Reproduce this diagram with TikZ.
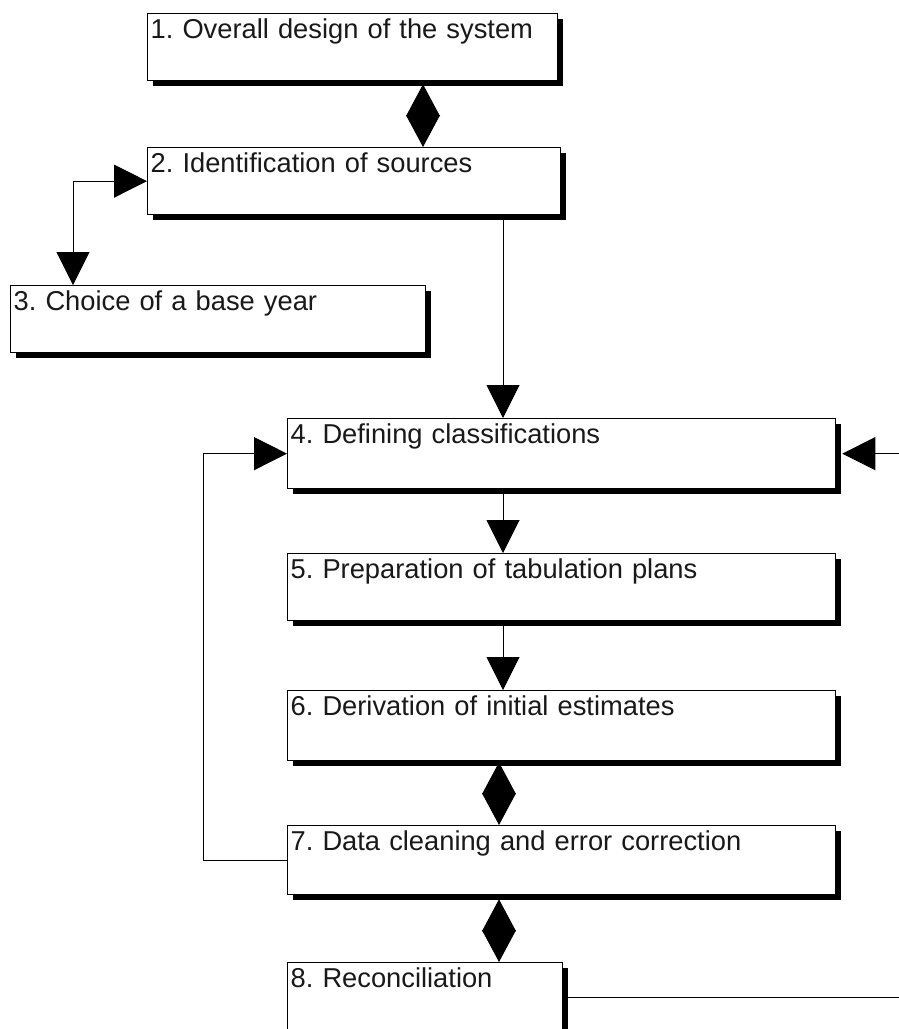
\documentclass[tikz,border=0pt]{standalone}
\usepackage{fontspec}
\setmainfont{Liberation Sans}
\usetikzlibrary{arrows.meta,shadows}
\frenchspacing
\begin{document}
\begin{tikzpicture}[x=1pt,y=-1pt,
  box/.style={draw=black, fill=white, line width=1.3pt, inner xsep=3pt, inner ysep=0pt,
    text height=25pt, align=left, anchor=north west,
    font=\fontsize{27.3}{30}\selectfont, text=black!90,
    drop shadow={shadow xshift=5pt, shadow yshift=-5pt, opacity=1, fill=black}},
  conn/.style={draw=black, line width=1pt},
  arr/.style={conn, -{Triangle[length=33pt,width=33pt]}},
  darr/.style={conn, {Triangle[length=33pt,width=33pt]}-{Triangle[length=33pt,width=33pt]}},
  dia/.style={conn, {Triangle[length=32pt,width=34pt]}-{Triangle[length=32pt,width=34pt]}}]
\useasboundingbox[fill=white] (0,0) rectangle (898,1029);

\node[box, text width=404pt, text depth=42pt] (n1) at (147,13) {1. Overall design of the system};
\node[box, text width=407pt, text depth=42pt] (n2) at (147,147) {2. Identification of sources};
\node[box, text width=409pt, text depth=42pt] (n3) at (10,285) {3. Choice of a base year};
\node[box, text width=542pt, text depth=45pt] (n4) at (287,418) {4. Defining classifications};
\node[box, text width=542pt, text depth=42pt] (n5) at (287,553) {5. Preparation of tabulation plans};
\node[box, text width=542pt, text depth=45pt] (n6) at (287,690) {6. Derivation of initial estimates};
\node[box, text width=542pt, text depth=44pt] (n7) at (287,825) {7. Data cleaning and error correction};
\node[box, text width=269pt, text depth=45pt] (n8) at (287,962) {8. Reconciliation};

\draw[dia] ([xshift=276pt,yshift=-3pt]n1.south west) -- ([xshift=276pt]n2.north west);
\draw[darr] (n2.west) -| ([xshift=63pt]n3.north west);
\draw[arr] ([xshift=356pt]n2.south west) -- ([xshift=216pt]n4.north west);
\draw[arr] ([xshift=216pt]n4.south west) -- ([xshift=216pt]n5.north west);
\draw[arr] ([xshift=216pt]n5.south west) -- ([xshift=216pt]n6.north west);
\draw[dia] ([xshift=212pt,yshift=-1pt]n6.south west) -- ([xshift=212pt]n7.north west);
\draw[dia] ([xshift=212pt,yshift=-4pt]n7.south west) -- ([xshift=212pt]n8.north west);
\draw[arr] (n7.west) -- ++(-84pt,0pt) |- (n4.west);
\draw[arr] (n8.east) -- ++(345pt,0pt) |- ([xshift=6pt]n4.east);
\end{tikzpicture}
\end{document}
